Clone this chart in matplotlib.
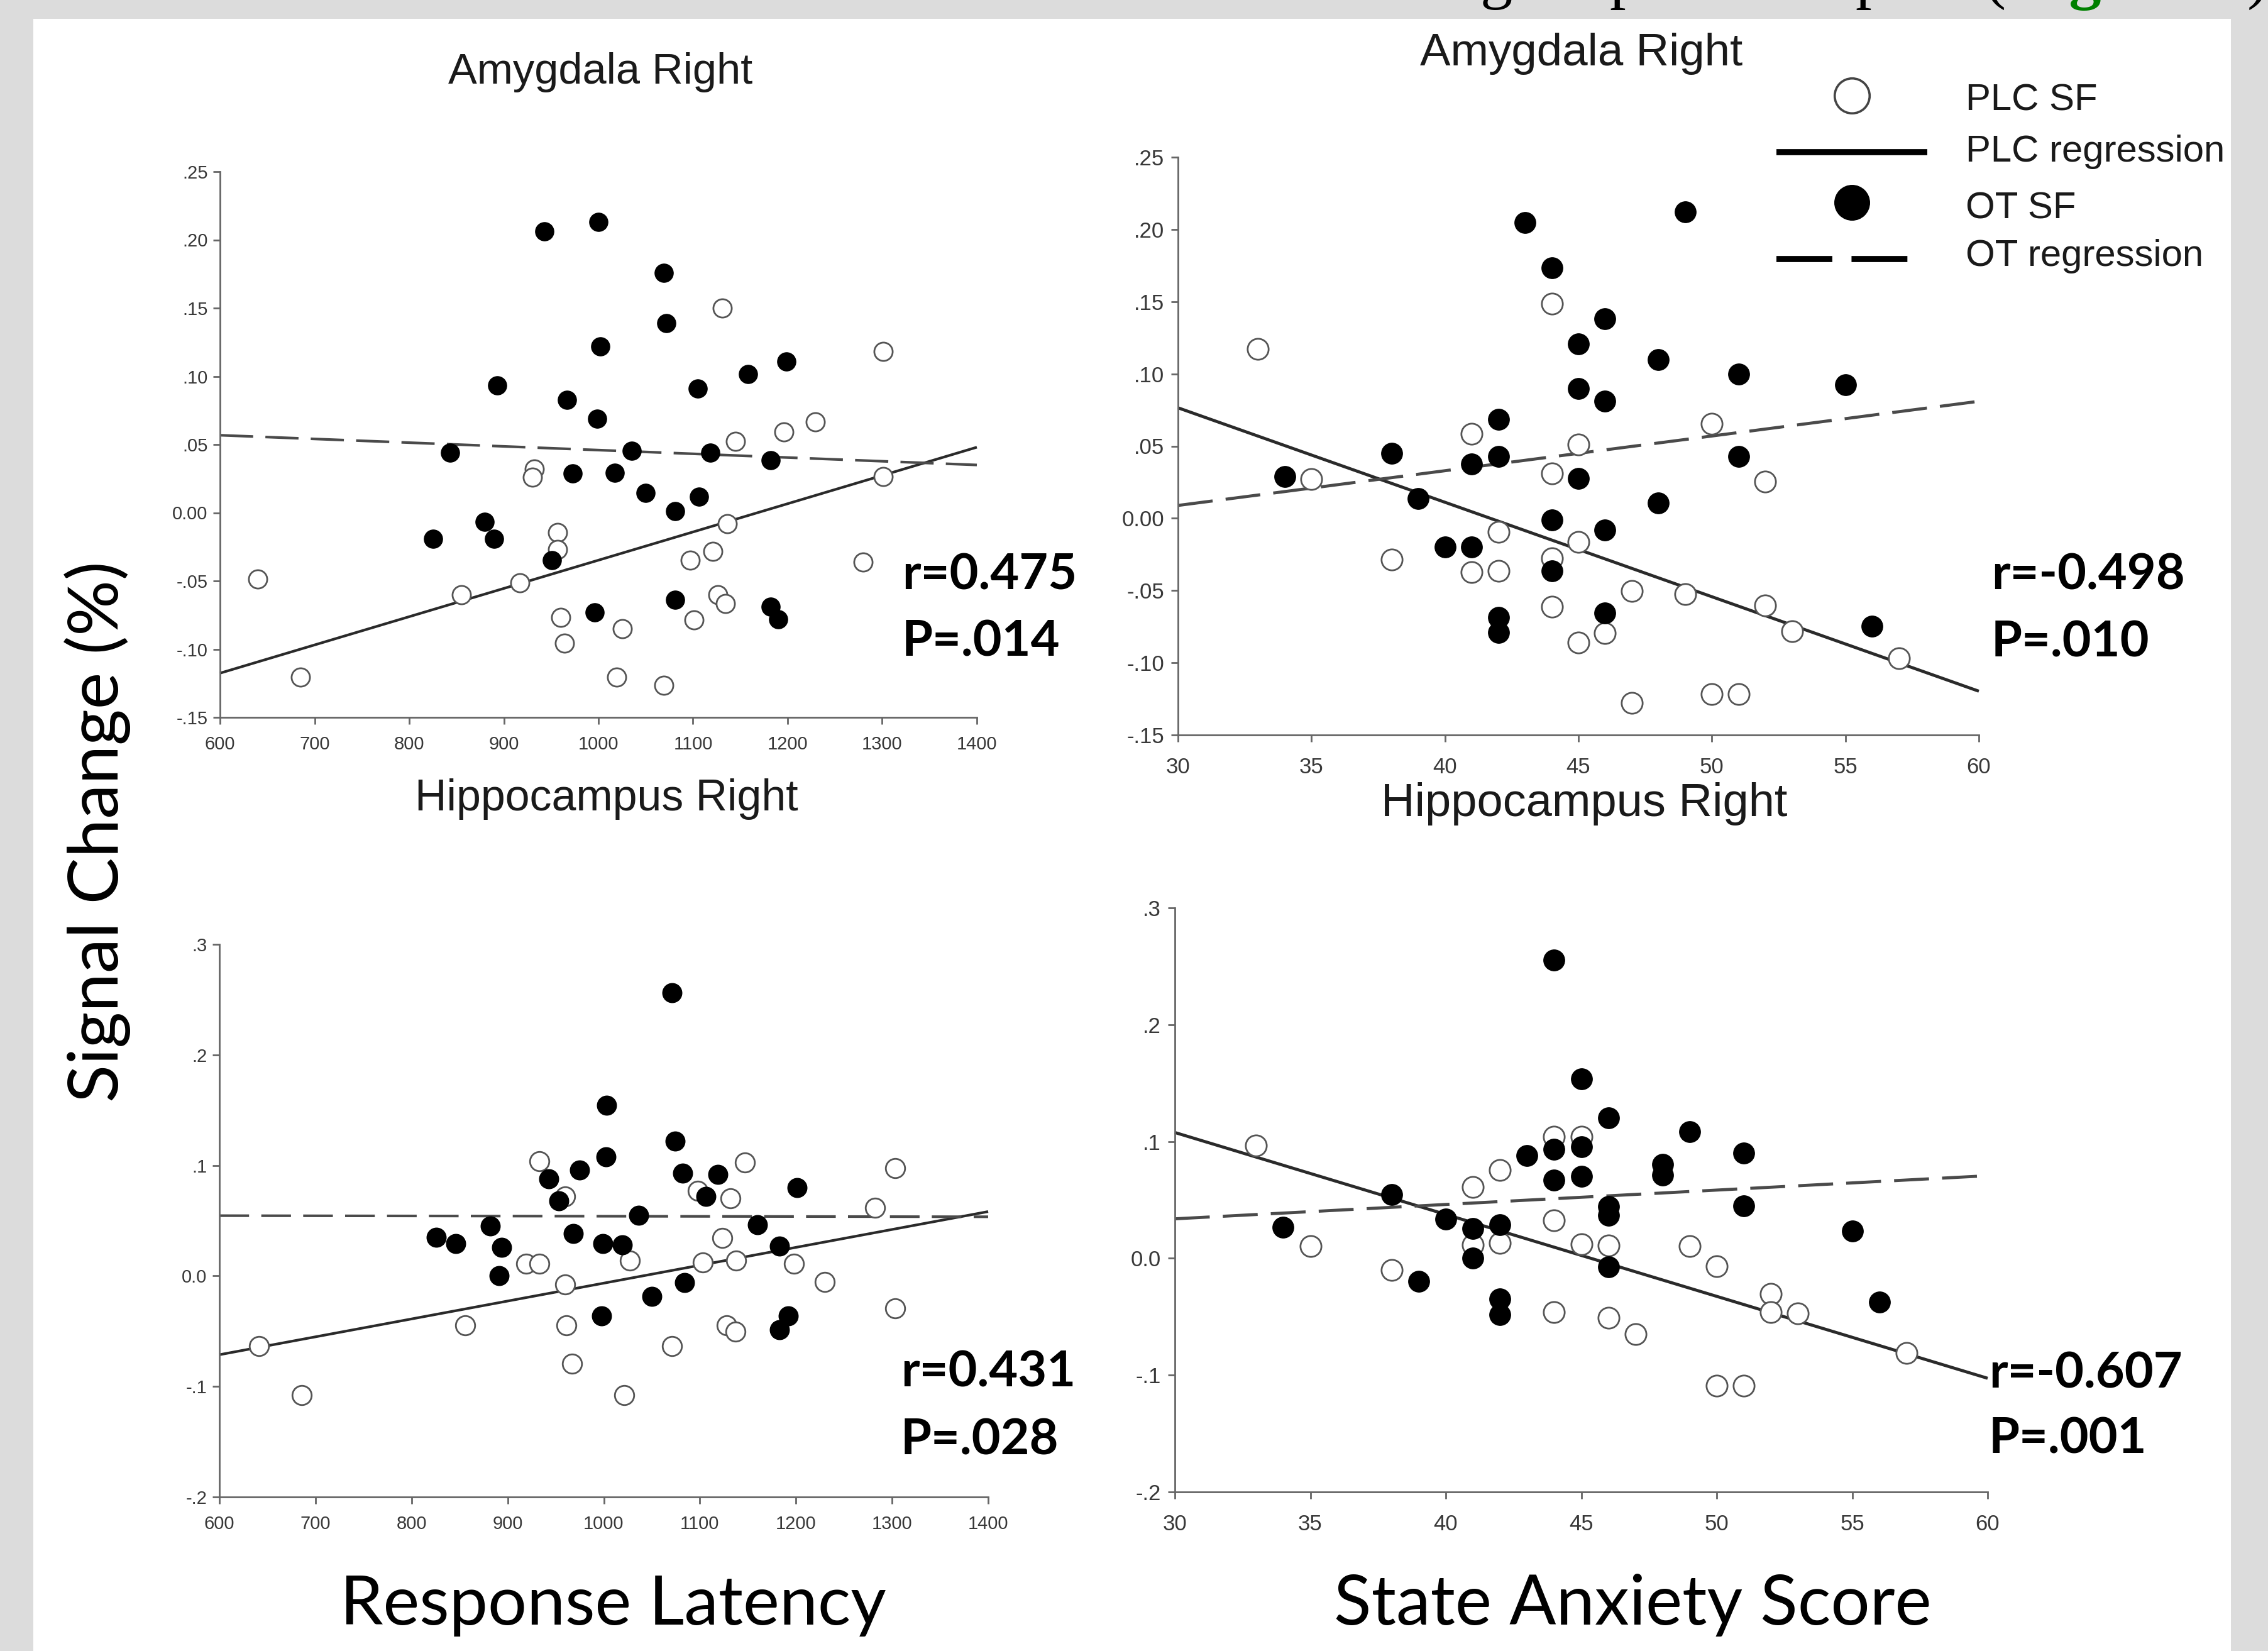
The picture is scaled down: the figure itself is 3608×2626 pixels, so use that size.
import matplotlib
matplotlib.use('Agg')
import matplotlib.pyplot as plt
from matplotlib.lines import Line2D
from matplotlib.patches import Rectangle

W, H = 3608, 2626
DPI = 100
plt.rcParams['lines.scale_dashes'] = False

# ---------------- data ----------------
# Top-left: Amygdala Right vs Response Latency
a_rl_plc_x = [1131, 1301, 1229, 1196, 1145, 932, 930, 1301, 1136, 957, 957, 1121, 1097, 1280,
              640, 917, 855, 1126, 1134, 960, 1101, 1025, 964, 685, 1019, 1069]
a_rl_plc_y = [0.150, 0.118, 0.0668, 0.0594, 0.0524, 0.032, 0.026, 0.0265, -0.008, -0.0147, -0.027,
              -0.0285, -0.035, -0.036, -0.0485, -0.0515, -0.0603, -0.0603, -0.0668, -0.0765, -0.0785,
              -0.085, -0.0956, -0.1206, -0.1206, -0.1265]
a_rl_ot_x = [943, 1000, 1069, 1072, 1002, 893, 1199, 1158, 1105, 967, 999, 843, 1035, 1118, 1182,
             973, 1017, 1050, 1106, 1081, 880, 890, 825, 951, 1081, 996, 1182, 1190]
a_rl_ot_y = [0.206, 0.213, 0.176, 0.139, 0.122, 0.0935, 0.111, 0.1015, 0.091, 0.0826, 0.069, 0.044,
             0.0456, 0.044, 0.0385, 0.029, 0.0294, 0.0147, 0.0118, 0.001, -0.0065, -0.019, -0.019,
             -0.035, -0.064, -0.073, -0.069, -0.078]
a_rl_plc_line_x = [600, 1400]
a_rl_plc_line_y = [-0.1176, 0.048]
a_rl_ot_line_x = [600, 1400]
a_rl_ot_line_y = [0.0568, 0.035]

# Top-right: Amygdala Right vs State Anxiety Score
a_sa_plc_x = [44, 33, 50, 41, 45, 44, 35, 52, 42, 45, 38, 44, 41, 42, 47, 49, 44, 52, 53, 46, 45,
              57, 50, 51, 47]
a_sa_plc_y = [0.1488, 0.1173, 0.0655, 0.0585, 0.0512, 0.031, 0.027, 0.0255, -0.0096, -0.0162,
              -0.0284, -0.0276, -0.0372, -0.0363, -0.0503, -0.0523, -0.0611, -0.0605, -0.078,
              -0.0794, -0.0862, -0.097, -0.1217, -0.1217, -0.128]
a_sa_ot_x = [43, 49, 44, 46, 45, 48, 51, 55, 45, 46, 42, 38, 41, 42, 51, 34, 45, 48, 39, 44, 46,
             40, 41, 44, 46, 42, 42, 56]
a_sa_ot_y = [0.2048, 0.212, 0.1736, 0.1383, 0.1208, 0.1098, 0.0999, 0.0923, 0.0897, 0.0812, 0.0684,
             0.045, 0.0377, 0.043, 0.043, 0.029, 0.0276, 0.0106, 0.0136, -0.001, -0.008, -0.0197,
             -0.0197, -0.0366, -0.0655, -0.0684, -0.0789, -0.0745]
a_sa_plc_line_x = [30, 60]
a_sa_plc_line_y = [0.0765, -0.1197]
a_sa_ot_line_x = [30, 60]
a_sa_ot_line_y = [0.0089, 0.081]

# Bottom-left: Hippocampus Right vs Response Latency
h_rl_plc_x = [933, 1147, 1303, 1098, 960, 1132, 1282, 1123, 919, 933, 1027, 1103, 1138, 1198, 960,
              1230, 1303, 856, 961, 1128, 1137, 641, 1071, 967, 686, 1021]
h_rl_plc_y = [0.1036, 0.1028, 0.0976, 0.0769, 0.0721, 0.0701, 0.0618, 0.0343, 0.0112, 0.0112, 0.014,
              0.012, 0.014, 0.0112, -0.0076, -0.0056, -0.0295, -0.0446, -0.0446, -0.0446, -0.0506,
              -0.0637, -0.0637, -0.0793, -0.1076, -0.1076]
h_rl_ot_x = [1071, 1003, 1074, 1002, 975, 943, 1082, 1119, 1201, 953, 1106, 1036, 882, 1160, 826,
             846, 968, 894, 999, 1019, 1183, 891, 1084, 1050, 998, 1192, 1183]
h_rl_ot_y = [0.2562, 0.1546, 0.1219, 0.108, 0.096, 0.088, 0.0928, 0.092, 0.080, 0.0677, 0.0721,
             0.055, 0.045, 0.0462, 0.035, 0.029, 0.0383, 0.0259, 0.029, 0.0283, 0.0271, 0.0004,
             -0.006, -0.0187, -0.0359, -0.0359, -0.0486]
h_rl_plc_line_x = [600, 1400]
h_rl_plc_line_y = [-0.0713, 0.0582]
h_rl_ot_line_x = [600, 1400]
h_rl_ot_line_y = [0.0545, 0.0535]

# Bottom-right: Hippocampus Right vs State Anxiety Score
h_sa_plc_x = [33, 44, 45, 42, 41, 44, 35, 41, 42, 45, 46, 49, 38, 50, 52, 52, 53, 44, 46, 47, 57,
              50, 51]
h_sa_plc_y = [0.0964, 0.1039, 0.1039, 0.0756, 0.0613, 0.0323, 0.0104, 0.0113, 0.0134, 0.0121, 0.011,
              0.0104, -0.0098, -0.007, -0.0303, -0.0462, -0.0469, -0.0462, -0.0511, -0.065,
              -0.0808, -0.1091, -0.1091]
h_sa_ot_x = [44, 45, 46, 49, 44, 45, 51, 43, 48, 48, 44, 45, 38, 46, 51, 46, 40, 34, 41, 42, 55,
             41, 46, 39, 42, 42, 56]
h_sa_ot_y = [0.2555, 0.1537, 0.1205, 0.1085, 0.0934, 0.0953, 0.0903, 0.0877, 0.0802, 0.0715, 0.067,
             0.070, 0.0545, 0.0443, 0.0451, 0.0368, 0.0338, 0.0266, 0.0255, 0.0285, 0.0236, 0.0,
             -0.0072, -0.0197, -0.0348, -0.048, -0.0375]
h_sa_plc_line_x = [30, 60]
h_sa_plc_line_y = [0.1077, -0.1027]
h_sa_ot_line_x = [30, 60]
h_sa_ot_line_y = [0.0338, 0.0707]

rl_ticks = [600, 700, 800, 900, 1000, 1100, 1200, 1300, 1400]
sa_ticks = [30, 35, 40, 45, 50, 55, 60]
amyg_yticks = [-0.15, -0.10, -0.05, 0.0, 0.05, 0.10, 0.15, 0.20, 0.25]
amyg_ylabels = ['-.15', '-.10', '-.05', '0.00', '.05', '.10', '.15', '.20', '.25']
hipp_yticks = [-0.2, -0.1, 0.0, 0.1, 0.2, 0.3]
hipp_ylabels = ['-.2', '-.1', '0.0', '.1', '.2', '.3']

panel_titles = ['Amygdala Right', 'Amygdala Right', 'Hippocampus Right', 'Hippocampus Right']
r_texts = ['r=0.475', 'r=-0.498', 'r=0.431', 'r=-0.607']
p_texts = ['P=.014', 'P=.010', 'P=.028', 'P=.001']
legend_labels = ['PLC SF', 'PLC regression', 'OT SF', 'OT regression']

# ---------------- figure ----------------
fig = plt.figure(figsize=(W / DPI, H / DPI), dpi=DPI)
fig.patch.set_facecolor('#dcdcdc')
fig.patches.append(Rectangle((53 / W, 0), (3549 - 53) / W, 1 - 30 / H,
                             transform=fig.transFigure, facecolor='white',
                             edgecolor='none', zorder=-5))
renderer = fig.canvas.get_renderer()


def fx(px):
    return px / W


def fy(py):
    return 1 - py / H


def fit_text(x, y, s, width_px, rotated=False, size0=40, **kw):
    t = fig.text(fx(x), fy(y), s, fontsize=size0, **kw)
    bb = t.get_window_extent(renderer=renderer)
    w = bb.height if rotated else bb.width
    t.set_fontsize(size0 * width_px / w)
    return t


SPINE = '#666666'
TICKC = '#383838'


def make_panel(rect, xlim, ylim, xticks, yticks, ylabels, tfs, xpad, ypad,
               plc_x, plc_y, ot_x, ot_y, pl_x, pl_y, ol_x, ol_y, ms, lw, dash):
    left, top, right, bottom = rect
    ax = fig.add_axes([fx(left), fy(bottom), (right - left) / W, (bottom - top) / H])
    ax.set_zorder(2)
    ax.set_facecolor('none')
    ax.set_xlim(*xlim)
    ax.set_ylim(*ylim)
    for s in ['top', 'right']:
        ax.spines[s].set_visible(False)
    for s in ['left', 'bottom']:
        ax.spines[s].set_color(SPINE)
        ax.spines[s].set_linewidth(2.0)
    ax.set_xticks(xticks)
    ax.set_xticklabels([str(v) for v in xticks])
    ax.set_yticks(yticks)
    ax.set_yticklabels(ylabels)
    ax.tick_params(axis='both', direction='out', length=8, width=2.0, color=SPINE,
                   labelcolor=TICKC, labelsize=tfs)
    ax.tick_params(axis='x', pad=xpad)
    ax.tick_params(axis='y', pad=ypad)
    for lab in ax.get_xticklabels() + ax.get_yticklabels():
        lab.set_fontfamily('Liberation Sans')
    ax.plot(pl_x, pl_y, color='#2a2a2a', lw=lw, solid_capstyle='butt', zorder=2, clip_on=False)
    ax.plot(ol_x, ol_y, color='#4a4a4a', lw=lw, dashes=dash, dash_capstyle='butt', zorder=2,
            clip_on=False)
    ax.plot(plc_x, plc_y, linestyle='none', marker='o', ms=ms, mfc='white', mec='#555555',
            mew=2.0, zorder=3, clip_on=False)
    ax.plot(ot_x, ot_y, linestyle='none', marker='o', ms=ms, mfc='black', mec='black',
            mew=1.0, zorder=4, clip_on=False)
    return ax


make_panel((350, 273, 1554, 1141), (600, 1400), (-0.15, 0.25), rl_ticks, amyg_yticks,
           amyg_ylabels, 21, 13, 6,
           a_rl_plc_x, a_rl_plc_y, a_rl_ot_x, a_rl_ot_y,
           a_rl_plc_line_x, a_rl_plc_line_y, a_rl_ot_line_x, a_rl_ot_line_y,
           21, 3.0, (38, 14))
make_panel((1874, 250, 3148, 1169), (30, 60), (-0.15, 0.25), sa_ticks, amyg_yticks,
           amyg_ylabels, 25, 17, 8,
           a_sa_plc_x, a_sa_plc_y, a_sa_ot_x, a_sa_ot_y,
           a_sa_plc_line_x, a_sa_plc_line_y, a_sa_ot_line_x, a_sa_ot_line_y,
           24, 3.5, (40, 15))
make_panel((349, 1502, 1572, 2381), (600, 1400), (-0.2, 0.3), rl_ticks, hipp_yticks,
           hipp_ylabels, 21, 13, 6,
           h_rl_plc_x, h_rl_plc_y, h_rl_ot_x, h_rl_ot_y,
           h_rl_plc_line_x, h_rl_plc_line_y, h_rl_ot_line_x, h_rl_ot_line_y,
           22, 3.0, (34, 14))
make_panel((1869, 1444, 3162, 2373), (30, 60), (-0.2, 0.3), sa_ticks, hipp_yticks,
           hipp_ylabels, 25, 17, 8,
           h_sa_plc_x, h_sa_plc_y, h_sa_ot_x, h_sa_ot_y,
           h_sa_plc_line_x, h_sa_plc_line_y, h_sa_ot_line_x, h_sa_ot_line_y,
           24, 3.5, (40, 15))

# panel titles (Arial-like)
title_pos = [(955, 133, 484), (2516, 104, 513), (965, 1289, 610), (2520, 1298, 645)]
for s, (x, y, w) in zip(panel_titles, title_pos):
    fit_text(x, y, s, w, family='Liberation Sans', color='#1a1a1a', ha='center', va='baseline')

# r / P annotations (bold, Calibri-like)
rp_pos = [(1435, 937, 1043), (3168, 937, 1044), (1433, 2205, 2313), (3164, 2207, 2312)]
t0 = fit_text(rp_pos[0][0], rp_pos[0][1], r_texts[0], 278, family='Lato', weight='bold',
              color='black', ha='left', va='baseline')
rp_fs = t0.get_fontsize()
for i, (x, yr, yp) in enumerate(rp_pos):
    if i > 0:
        fig.text(fx(x), fy(yr), r_texts[i], fontsize=rp_fs, family='Lato', weight='bold',
                 color='black', ha='left', va='baseline')
    fig.text(fx(x), fy(yp), p_texts[i], fontsize=rp_fs, family='Lato', weight='bold',
             color='black', ha='left', va='baseline')

# big axis labels
fit_text(155, 1323, 'Signal Change (%)', 860, rotated=True, family='Lato', color='black',
         rotation=90, ha='center', va='center')
fit_text(975, 2584, 'Response Latency', 868, family='Lato', color='black', ha='center',
         va='baseline')
fit_text(2597, 2584, 'State Anxiety Score', 950, family='Lato', color='black', ha='center',
         va='baseline')

# legend (top right)
leg_ms = 40
fig.add_artist(Line2D([fx(2946)], [fy(152)], transform=fig.transFigure, linestyle='none',
                      marker='o', ms=leg_ms, mfc='white', mec='#444444', mew=2.6))
fig.add_artist(Line2D([fx(2826), fx(3066)], [fy(242), fy(242)], transform=fig.transFigure,
                      color='black', lw=7.0, solid_capstyle='butt'))
fig.add_artist(Line2D([fx(2946)], [fy(322)], transform=fig.transFigure, linestyle='none',
                      marker='o', ms=leg_ms, mfc='black', mec='black', mew=1.0))
fig.add_artist(Line2D([fx(2826), fx(3035)], [fy(412), fy(412)], transform=fig.transFigure,
                      color='black', lw=7.0, dashes=(64, 22), dash_capstyle='butt'))
lt = fit_text(3127, 257, legend_labels[1], 413, family='Liberation Sans', color='#1a1a1a',
              ha='left', va='baseline')
leg_fs = lt.get_fontsize()
for s, y in zip([legend_labels[0], legend_labels[2], legend_labels[3]], [175, 347, 423]):
    fig.text(fx(3127), fy(y), s, fontsize=leg_fs, family='Liberation Serif' if False else 'Liberation Sans',
             color='#1a1a1a', ha='left', va='baseline')

# clipped line of running text at the very top of the screenshot (only descenders show)
top_y = 1 + 6 / H
for s, x in [('g', 2380), ('p', 2586), ('p', 2977), ('(', 3174), (')', 3592)]:
    fig.text(fx(x), top_y, s, fontsize=74, family='Liberation Serif', color='black',
             ha='center', va='baseline')
fig.text(fx(3200), top_y, 'Figure 3', fontsize=74, family='Liberation Serif', weight='bold',
         color='#008000', ha='left', va='baseline')

fig.savefig('out.png', dpi=DPI, facecolor=fig.get_facecolor())
